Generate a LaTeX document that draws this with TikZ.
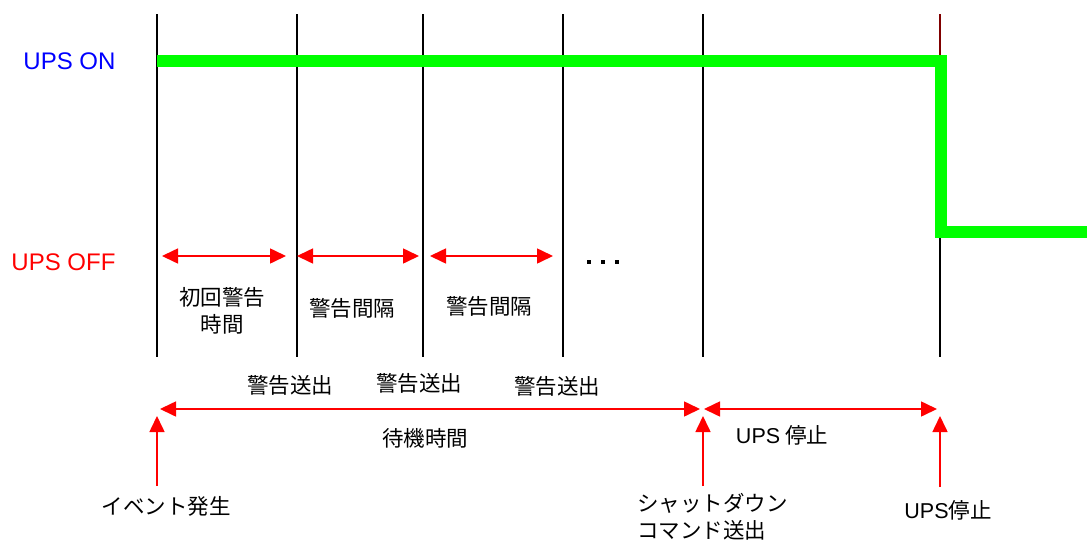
\documentclass[tikz,border=0pt]{standalone}
\usepackage{fontspec}
\setmainfont{Liberation Sans}
\newfontfamily\cjk{Noto Sans CJK JP}
\usetikzlibrary{arrows.meta}
\begin{document}
\begin{tikzpicture}[x=1pt,y=-1pt,
  vline/.style={line width=2pt,black},
  sig/.style={line width=12pt,color={rgb,255:red,0;green,255;blue,0}},
  redarr/.style={line width=1.6pt,red,{Triangle[length=16pt,width=15pt]}-{Triangle[length=16pt,width=15pt]}},
  uparr/.style={line width=1.6pt,red,-{Triangle[length=16pt,width=15pt]}},
  jp/.style={font=\cjk\fontsize{21.5pt}{27pt}\selectfont,inner sep=0pt,align=center},
  lbl/.style={font=\fontsize{24pt}{28pt}\selectfont,inner sep=0pt}]
\useasboundingbox (0,0) rectangle (1087,541);
% vertical lines
\foreach \x/\n in {157/a,297/b,423/c,563/d,703/e}{
  \coordinate (\n t) at (\x,14);
  \coordinate (\n b) at (\x,357);
  \draw[vline] (\n t) -- (\n b);
}
\coordinate (ft) at (940,14);
\coordinate (fm) at (940,60);
\coordinate (fb) at (940,357);
\draw[line width=2pt,color={rgb,255:red,128;green,0;blue,0}] (ft) -- (fm);
\draw[vline] (fm) -- (fb);
% signal
\coordinate (s0) at (157,61);
\coordinate (s1) at (941,61);
\coordinate (s2) at (941,232);
\coordinate (s3) at (1087,232);
\draw[sig,line join=miter] (s0) -- (s1) -- (s2) -- (s3);
% state labels
\node[lbl,text=blue] (on) at (69.5,61) {UPS ON};
\node[lbl,text=red] (off) at (63.5,262) {UPS OFF};
% interval arrows
\coordinate (i1a) at (162,256); \coordinate (i1b) at (286,256);
\coordinate (i2a) at (297,256); \coordinate (i2b) at (419,256);
\coordinate (i3a) at (430,256); \coordinate (i3b) at (553,256);
\draw[redarr] (i1a) -- (i1b);
\draw[redarr] (i2a) -- (i2b);
\draw[redarr] (i3a) -- (i3b);
\foreach \x in {589,603,617}{
  \fill (\x-2,260) rectangle (\x+2,264);
}
\node[jp] (t1) at (222,311) {初回警告\\時間};
\node[jp] (t2) at (352,308) {警告間隔};
\node[jp] (t3) at (489,306) {警告間隔};
\node[jp] (w1) at (290,385) {警告送出};
\node[jp] (w2) at (419,383) {警告送出};
\node[jp] (w3) at (557,386) {警告送出};
% bottom arrows
\coordinate (l1a) at (160,409); \coordinate (l1b) at (700,409);
\coordinate (l2a) at (704,409); \coordinate (l2b) at (937,409);
\draw[redarr] (l1a) -- (l1b);
\draw[redarr] (l2a) -- (l2b);
\node[jp] (wait) at (425,438) {待機時間};
\node[jp] (stop1) at (782,435) {{\fontspec{Liberation Sans}UPS} 停止};
\coordinate (u1b) at (157,486); \coordinate (u1t) at (157,416);
\coordinate (u2b) at (703,486); \coordinate (u2t) at (703,416);
\coordinate (u3b) at (940,487); \coordinate (u3t) at (940,416);
\draw[uparr] (u1b) -- (u1t);
\draw[uparr] (u2b) -- (u2t);
\draw[uparr] (u3b) -- (u3t);
\node[jp] (ev) at (166,506) {イベント発生};
\node[jp,align=left,anchor=west] (sd) at (637,517) {シャットダウン\\コマンド送出};
\node[jp] (stop2) at (948,510) {{\fontspec{Liberation Sans}UPS}停止};
\end{tikzpicture}
\end{document}
